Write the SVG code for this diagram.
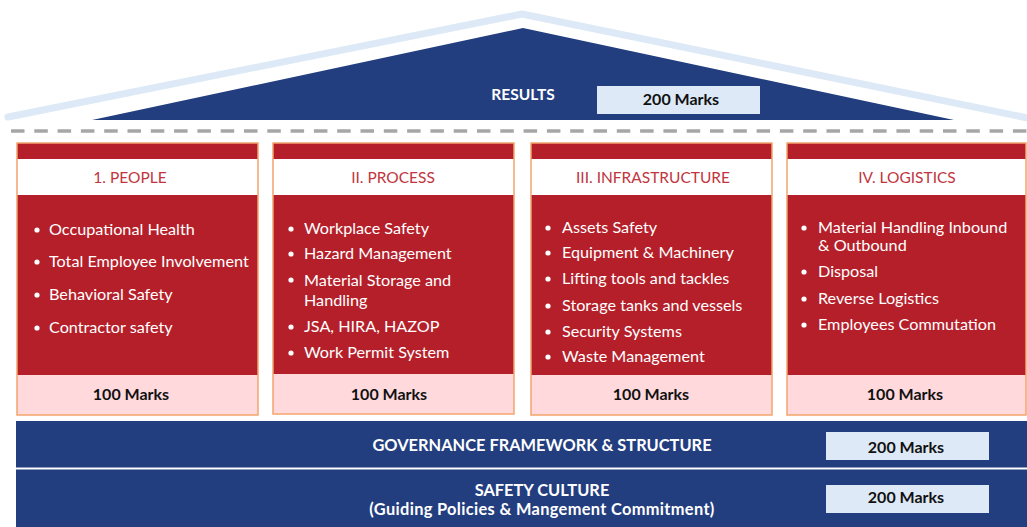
<svg xmlns="http://www.w3.org/2000/svg" width="1027" height="527" viewBox="0 0 1027 527">
<style>
.navy{fill:#233e7f}
.red{fill:#b51f2a}
.pink{fill:#ffd9dc}
.lb{fill:#dde9f6}
.border{fill:none;stroke:#f4a46c;stroke-width:1.5}
.title{font-family:Lato,"Open Sans",sans-serif;font-size:15.5px;fill:#c1353e;text-anchor:middle}
.item{font-family:Lato,"Open Sans",sans-serif;font-size:16.2px;fill:#ffffff}
.marks{font-family:Lato,"Open Sans",sans-serif;font-size:16px;font-weight:bold;fill:#111111;text-anchor:middle}
.wt{font-family:Lato,"Open Sans",sans-serif;font-size:16.4px;font-weight:bold;fill:#ffffff;text-anchor:middle}
.dot{fill:#ffffff}
</style>
<rect width="1027" height="527" fill="#ffffff"/>
<g id="roof">
<polyline points="8,117 522,14 1030,118.5" fill="none" stroke="#dde9f6" stroke-width="7" stroke-linecap="round" stroke-linejoin="round"/>
<polygon class="navy" points="92,120 523,28 954,120"/>
<text class="wt" x="523" y="100" style="font-size:15.5px">RESULTS</text>
<rect class="lb" x="597" y="86" width="163" height="28"/>
<text class="marks" x="681" y="105">200 Marks</text>
</g>
<g id="divider">
<line x1="11" y1="131" x2="1027" y2="131" stroke="#a6a6a6" stroke-width="3.3" stroke-dasharray="13.5 9.8"/>
</g>
<g id="people">
<rect class="red" x="17" y="143" width="241" height="232"/>
<rect x="17" y="159" width="241" height="36" fill="#ffffff"/>
<rect class="pink" x="17" y="375" width="241" height="40"/>
<rect class="border" x="17" y="143" width="241" height="272"/>
<text class="title" x="130" y="183">1. PEOPLE</text>
<circle class="dot" cx="37" cy="230" r="2.6"/><text class="item" x="49" y="235">Occupational Health</text>
<circle class="dot" cx="37" cy="262" r="2.6"/><text class="item" x="49" y="267">Total Employee Involvement</text>
<circle class="dot" cx="37" cy="295" r="2.6"/><text class="item" x="49" y="300">Behavioral Safety</text>
<circle class="dot" cx="37" cy="328" r="2.6"/><text class="item" x="49" y="333">Contractor safety</text>
<text class="marks" x="131" y="400">100 Marks</text>
</g>
<g id="process">
<rect class="red" x="273" y="143" width="241" height="231"/>
<rect x="273" y="159" width="241" height="36" fill="#ffffff"/>
<rect class="pink" x="273" y="374" width="241" height="40"/>
<rect class="border" x="273" y="143" width="241" height="271"/>
<text class="title" x="393" y="183">II. PROCESS</text>
<circle class="dot" cx="291" cy="229" r="2.6"/><text class="item" x="304" y="234">Workplace Safety</text>
<circle class="dot" cx="291" cy="254" r="2.6"/><text class="item" x="304" y="259">Hazard Management</text>
<circle class="dot" cx="291" cy="280" r="2.6"/><text class="item" x="304" y="286">Material Storage and</text>
<text class="item" x="304" y="306">Handling</text>
<circle class="dot" cx="291" cy="327" r="2.6"/><text class="item" x="304" y="332">JSA, HIRA, HAZOP</text>
<circle class="dot" cx="291" cy="353" r="2.6"/><text class="item" x="304" y="358">Work Permit System</text>
<text class="marks" x="389" y="400">100 Marks</text>
</g>
<g id="infrastructure">
<rect class="red" x="531" y="143" width="241" height="232"/>
<rect x="531" y="159" width="241" height="36" fill="#ffffff"/>
<rect class="pink" x="531" y="375" width="241" height="40"/>
<rect class="border" x="531" y="143" width="241" height="272"/>
<text class="title" x="653" y="183">III. INFRASTRUCTURE</text>
<circle class="dot" cx="548" cy="228" r="2.6"/><text class="item" x="562" y="233">Assets Safety</text>
<circle class="dot" cx="548" cy="253" r="2.6"/><text class="item" x="562" y="258">Equipment &amp; Machinery</text>
<circle class="dot" cx="548" cy="279" r="2.6"/><text class="item" x="562" y="284">Lifting tools and tackles</text>
<circle class="dot" cx="548" cy="306" r="2.6"/><text class="item" x="562" y="311">Storage tanks and vessels</text>
<circle class="dot" cx="548" cy="332" r="2.6"/><text class="item" x="562" y="337">Security Systems</text>
<circle class="dot" cx="548" cy="357" r="2.6"/><text class="item" x="562" y="362">Waste Management</text>
<text class="marks" x="651" y="400">100 Marks</text>
</g>
<g id="logistics">
<rect class="red" x="787" y="143" width="239" height="232"/>
<rect x="787" y="159" width="239" height="36" fill="#ffffff"/>
<rect class="pink" x="787" y="375" width="239" height="40"/>
<rect class="border" x="787" y="143" width="239" height="272"/>
<text class="title" x="907" y="183">IV. LOGISTICS</text>
<circle class="dot" cx="804" cy="228" r="2.6"/><text class="item" x="818" y="233">Material Handling Inbound</text>
<text class="item" x="818" y="251">&amp; Outbound</text>
<circle class="dot" cx="804" cy="272" r="2.6"/><text class="item" x="818" y="277">Disposal</text>
<circle class="dot" cx="804" cy="299" r="2.6"/><text class="item" x="818" y="304">Reverse Logistics</text>
<circle class="dot" cx="804" cy="325" r="2.6"/><text class="item" x="818" y="330">Employees Commutation</text>
<text class="marks" x="905" y="400">100 Marks</text>
</g>
<g id="governance">
<rect class="navy" x="16" y="421" width="1011" height="46.5"/>
<text class="wt" x="542" y="451">GOVERNANCE FRAMEWORK &amp; STRUCTURE</text>
<rect class="lb" x="826" y="432" width="163" height="28"/>
<text class="marks" x="906" y="453">200 Marks</text>
</g>
<g id="safety-culture">
<rect class="navy" x="16" y="469.5" width="1011" height="57.5"/>
<text class="wt" x="542" y="496">SAFETY CULTURE</text>
<text class="wt" x="542" y="515" letter-spacing="0.33">(Guiding Policies &amp; Mangement Commitment)</text>
<rect class="lb" x="826" y="485" width="163" height="28"/>
<text class="marks" x="906" y="503">200 Marks</text>
</g>
</svg>
